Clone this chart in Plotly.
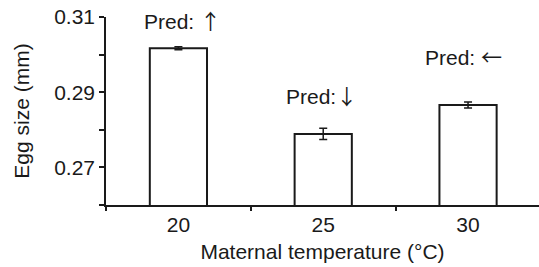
import plotly.graph_objects as go

categories = ["20", "25", "30"]
egg_size = [0.3017, 0.2789, 0.2866]
egg_err = [0.0004, 0.0015, 0.0008]
pred_text = ["Pred: ", "Pred:", "Pred: "]
pred_arrows = ["↑", "↓", "←"]
y_tickvals = [0.26, 0.27, 0.28, 0.29, 0.30, 0.31]
y_ticktext = ["", "0.27", "", "0.29", "", "0.31"]

INK = "#1a1a1a"
FONT = "Liberation Sans, Arial, Helvetica, sans-serif"
FS = 21

fig = go.Figure()
fig.add_trace(go.Bar(
    x=categories, y=egg_size,
    width=0.395,
    marker=dict(color="white", line=dict(color=INK, width=2)),
    error_y=dict(type="data", array=egg_err, visible=True,
                 color=INK, thickness=1.5, width=4),
    hoverinfo="skip",
))

# annotation placements (layout only)
ann_pos = [(0.03, 0.3092), (-0.015, 0.2893), (-0.03, 0.2996)]
for i, (lab, arr, (dx, yy)) in enumerate(zip(pred_text, pred_arrows, ann_pos)):
    txt = lab + '<span style="font-family:Noto Sans CJK JP">' + arr + '</span>'
    fig.add_annotation(x=i + dx, y=yy, xref="x", yref="y", text=txt,
                       showarrow=False, font=dict(size=FS, color=INK, family=FONT))

fig.update_layout(
    width=539, height=267,
    margin=dict(l=106, r=0, t=17, b=62, autoexpand=False),
    paper_bgcolor="white", plot_bgcolor="white",
    font=dict(family=FONT, size=FS, color=INK),
    showlegend=False,
)
fig.update_xaxes(
    type="category", range=[-0.5, 2.49], automargin=False,
    showline=True, linecolor=INK, linewidth=1.5,
    ticks="outside", tickson="boundaries", ticklen=4, tickwidth=1.5, tickcolor=INK,
    showgrid=False, zeroline=False,
    tickfont=dict(size=FS, color=INK),
    title=dict(text="Maternal temperature (°C)", font=dict(size=FS, color=INK), standoff=9),
)
fig.update_yaxes(
    range=[0.26, 0.31001], automargin=False, ticklabeloverflow="allow",
    tickvals=y_tickvals, ticktext=y_ticktext,
    showline=True, linecolor=INK, linewidth=1.5,
    ticks="outside", ticklen=5, tickwidth=1.5, tickcolor=INK,
    showgrid=False, zeroline=False,
    tickfont=dict(size=FS, color=INK),
    title=dict(text="Egg size (mm)", font=dict(size=FS, color=INK), standoff=19),
)

fig.write_html("out.html", config={"displayModeBar": False},
               post_script="document.body.style.margin='0';")
